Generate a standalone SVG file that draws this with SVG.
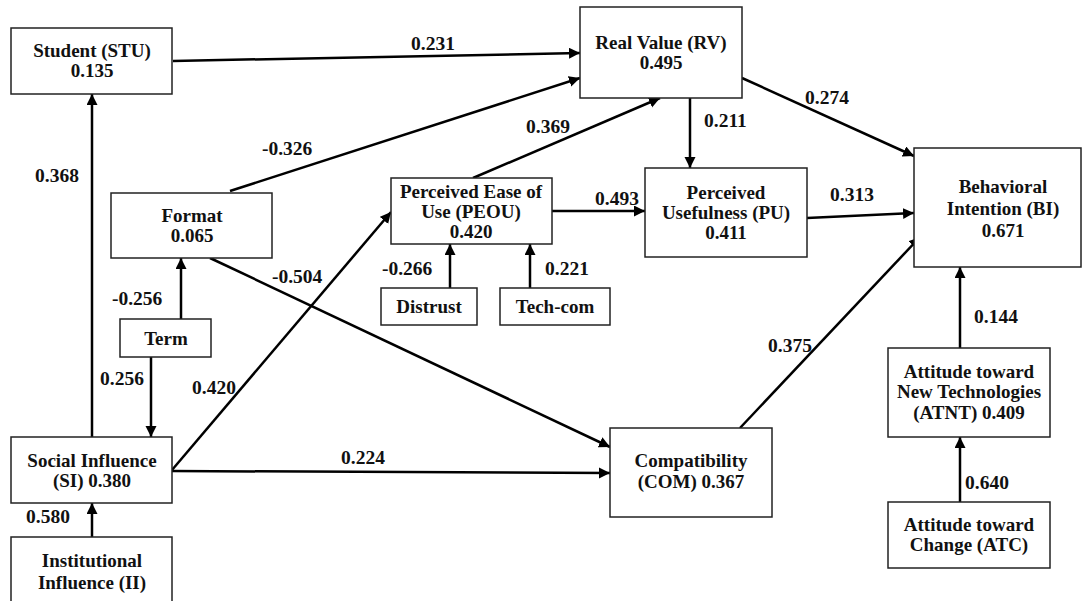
<svg xmlns="http://www.w3.org/2000/svg" width="1083" height="601" viewBox="0 0 1083 601">
<style>
.box{fill:#fff;stroke:#222;stroke-width:1.5}
.t{font-family:"Liberation Serif","Times New Roman",serif;font-weight:bold;font-size:19px;fill:#111;text-anchor:middle}
.l{font-family:"Liberation Serif","Times New Roman",serif;font-weight:bold;font-size:19.5px;fill:#111}
.c{stroke:#000;stroke-width:2.5;fill:none;marker-end:url(#ah)}
</style>
<defs>
<marker id="ah" markerUnits="userSpaceOnUse" markerWidth="12" markerHeight="12" refX="11" refY="5.5" orient="auto">
<path d="M0,0 L11,5.5 L0,11 z" fill="#000"/>
</marker>
</defs>
<rect width="1083" height="601" fill="#fff"/>
<g id="connectors">
<line class="c" x1="173" y1="61" x2="580" y2="53"/>
<line class="c" x1="230" y1="191" x2="580" y2="78"/>
<line class="c" x1="473" y1="178" x2="660" y2="98"/>
<line class="c" x1="690" y1="98" x2="690" y2="168"/>
<line class="c" x1="552" y1="211" x2="645" y2="211"/>
<line class="c" x1="742" y1="78" x2="914" y2="156"/>
<line class="c" x1="807" y1="218" x2="914" y2="213"/>
<line class="c" x1="740" y1="428" x2="920" y2="237"/>
<line class="c" x1="960" y1="348" x2="960" y2="267"/>
<line class="c" x1="960" y1="502" x2="960" y2="437"/>
<line class="c" x1="181" y1="319" x2="181" y2="258"/>
<line class="c" x1="151" y1="357" x2="151" y2="437"/>
<line class="c" x1="92" y1="437" x2="92" y2="94"/>
<line class="c" x1="92" y1="537" x2="92" y2="503"/>
<line class="c" x1="172" y1="471" x2="610" y2="473"/>
<line class="c" x1="172" y1="470" x2="391" y2="212"/>
<line class="c" x1="210" y1="258" x2="610" y2="447"/>
<line class="c" x1="450" y1="288" x2="450" y2="244"/>
<line class="c" x1="530" y1="288" x2="530" y2="244"/>
</g>
<g id="labels">
<text class="l" x="411" y="50">0.231</text>
<text class="l" x="262" y="155">-0.326</text>
<text class="l" x="35" y="182">0.368</text>
<text class="l" x="526" y="133">0.369</text>
<text class="l" x="704" y="127">0.211</text>
<text class="l" x="805" y="104">0.274</text>
<text class="l" x="595" y="205">0.493</text>
<text class="l" x="830" y="201">0.313</text>
<text class="l" x="382" y="275">-0.266</text>
<text class="l" x="545" y="275">0.221</text>
<text class="l" x="112" y="305">-0.256</text>
<text class="l" x="272" y="283">-0.504</text>
<text class="l" x="100" y="385">0.256</text>
<text class="l" x="192" y="394">0.420</text>
<text class="l" x="341" y="464">0.224</text>
<text class="l" x="26" y="523">0.580</text>
<text class="l" x="768" y="352">0.375</text>
<text class="l" x="974" y="323">0.144</text>
<text class="l" x="965" y="489">0.640</text>
</g>
<g id="STU"><rect class="box" x="11" y="28" width="161" height="66"/><text class="t" x="92" y="57">Student (STU)</text><text class="t" x="92" y="77">0.135</text></g>
<g id="RV"><rect class="box" x="580" y="7" width="162" height="91"/><text class="t" x="661" y="49">Real Value (RV)</text><text class="t" x="661" y="69">0.495</text></g>
<g id="Format"><rect class="box" x="111" y="193" width="161" height="65"/><text class="t" x="192" y="222">Format</text><text class="t" x="192" y="242">0.065</text></g>
<g id="PEOU"><rect class="box" x="391" y="178" width="161" height="66"/><text class="t" x="471" y="198">Perceived Ease of</text><text class="t" x="471" y="218">Use (PEOU)</text><text class="t" x="471" y="238">0.420</text></g>
<g id="PU"><rect class="box" x="645" y="168" width="162" height="89"/><text class="t" x="726" y="199">Perceived</text><text class="t" x="726" y="219">Usefulness (PU)</text><text class="t" x="726" y="239">0.411</text></g>
<g id="BI"><rect class="box" x="914" y="148" width="167" height="119"/><text class="t" x="1003" y="193">Behavioral</text><text class="t" x="1003" y="215">Intention (BI)</text><text class="t" x="1003" y="237">0.671</text></g>
<g id="Term"><rect class="box" x="120" y="319" width="91" height="38"/><text class="t" x="166" y="345">Term</text></g>
<g id="Distrust"><rect class="box" x="381" y="288" width="96" height="37"/><text class="t" x="429" y="313">Distrust</text></g>
<g id="TechCom"><rect class="box" x="500" y="288" width="110" height="37"/><text class="t" x="555" y="313">Tech-com</text></g>
<g id="SI"><rect class="box" x="11" y="437" width="161" height="66"/><text class="t" x="92" y="467">Social Influence</text><text class="t" x="92" y="487">(SI) 0.380</text></g>
<g id="II"><rect class="box" x="11" y="537" width="161" height="80"/><text class="t" x="92" y="567">Institutional</text><text class="t" x="92" y="589">Influence (II)</text></g>
<g id="COM"><rect class="box" x="610" y="428" width="162" height="89"/><text class="t" x="691" y="467">Compatibility</text><text class="t" x="691" y="488">(COM) 0.367</text></g>
<g id="ATNT"><rect class="box" x="888" y="348" width="162" height="89"/><text class="t" x="969" y="378">Attitude toward</text><text class="t" x="969" y="398">New Technologies</text><text class="t" x="969" y="419">(ATNT) 0.409</text></g>
<g id="ATC"><rect class="box" x="888" y="502" width="162" height="66"/><text class="t" x="969" y="531">Attitude toward</text><text class="t" x="969" y="551">Change (ATC)</text></g>
</svg>
